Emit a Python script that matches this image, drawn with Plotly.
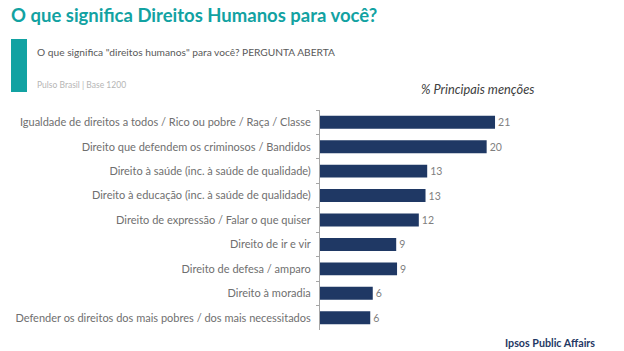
import plotly.graph_objects as go

categories = [
    "Igualdade de direitos a todos / Rico ou pobre / Raça / Classe",
    "Direito que defendem os criminosos / Bandidos",
    "Direito à saúde (inc. à saúde de qualidade)",
    "Direito à educação (inc. à saúde de qualidade)",
    "Direito de expressão / Falar o que quiser",
    "Direito de ir e vir",
    "Direito de defesa / amparo",
    "Direito à moradia",
    "Defender os direitos dos mais pobres / dos mais necessitados",
]
values = [20.9, 19.9, 12.8, 12.6, 11.8, 9.1, 9.2, 6.3, 6.0]
value_labels = [str(round(v)) for v in values]

BAR = "#1f3864"
TEAL = "#12a2a2"
FONT = "Lato"

fig = go.Figure(go.Bar(
    x=values, y=categories, orientation="h",
    marker=dict(color=BAR, line=dict(width=0)),
    text=value_labels, textposition="outside",
    textfont=dict(family=FONT, size=13, color="#7f7f7f"),
    cliponaxis=False, width=0.53,
))

fig.update_layout(
    width=624, height=351,
    margin=dict(l=320, r=0, t=110, b=21),
    paper_bgcolor="white", plot_bgcolor="white",
    showlegend=False,
    font=dict(family=FONT),
    xaxis=dict(range=[0, 36.3], visible=False),
    yaxis=dict(
        autorange="reversed", showline=True, linecolor="#a6a6a6", linewidth=1,
        ticks="outside", tickson="boundaries", ticklen=3, tickcolor="#a6a6a6",
        tickfont=dict(family=FONT, size=11, color="#6f6f6f"),
        ticklabelstandoff=6, showgrid=False,
    ),
    shapes=[dict(type="rect", xref="paper", yref="paper",
                 x0=-320/304 + 11/304, x1=-320/304 + 27/304,
                 y0=1 + (110-39)/220, y1=1 + (110-92)/220,
                 fillcolor=TEAL, line=dict(width=0))],
    annotations=[
        dict(text="<b>O que significa Direitos Humanos para você?</b>", x=0, y=1,
             xref="paper", yref="paper", xanchor="left", yanchor="middle",
             font=dict(family=FONT, size=18.5, color=TEAL), showarrow=False,
             xshift=-320+9, yshift=110-15),
        dict(text='O que significa "direitos humanos" para você? PERGUNTA ABERTA', x=0, y=1,
             xref="paper", yref="paper", xanchor="left", yanchor="middle",
             font=dict(family=FONT, size=10.2, color="#595959"), showarrow=False,
             xshift=-320+35, yshift=110-52),
        dict(text="Pulso Brasil | Base 1200", x=0, y=1,
             xref="paper", yref="paper", xanchor="left", yanchor="middle",
             font=dict(family=FONT, size=8.5, color="#b5b5b5"), showarrow=False,
             xshift=-320+35, yshift=110-85),
        dict(text="<i>% Principais menções</i>", x=0, y=1,
             xref="paper", yref="paper", xanchor="left", yanchor="middle",
             font=dict(family=FONT, size=12.8, color="#404040"), showarrow=False,
             xshift=419-320, yshift=110-89),
        dict(text="<b>Ipsos Public Affairs</b>", x=0, y=0,
             xref="paper", yref="paper", xanchor="left", yanchor="middle",
             font=dict(family=FONT, size=10.7, color="#1f3864"), showarrow=False,
             xshift=503-320, yshift=-(342-330)),
    ],
)

fig.write_html("out.html")
